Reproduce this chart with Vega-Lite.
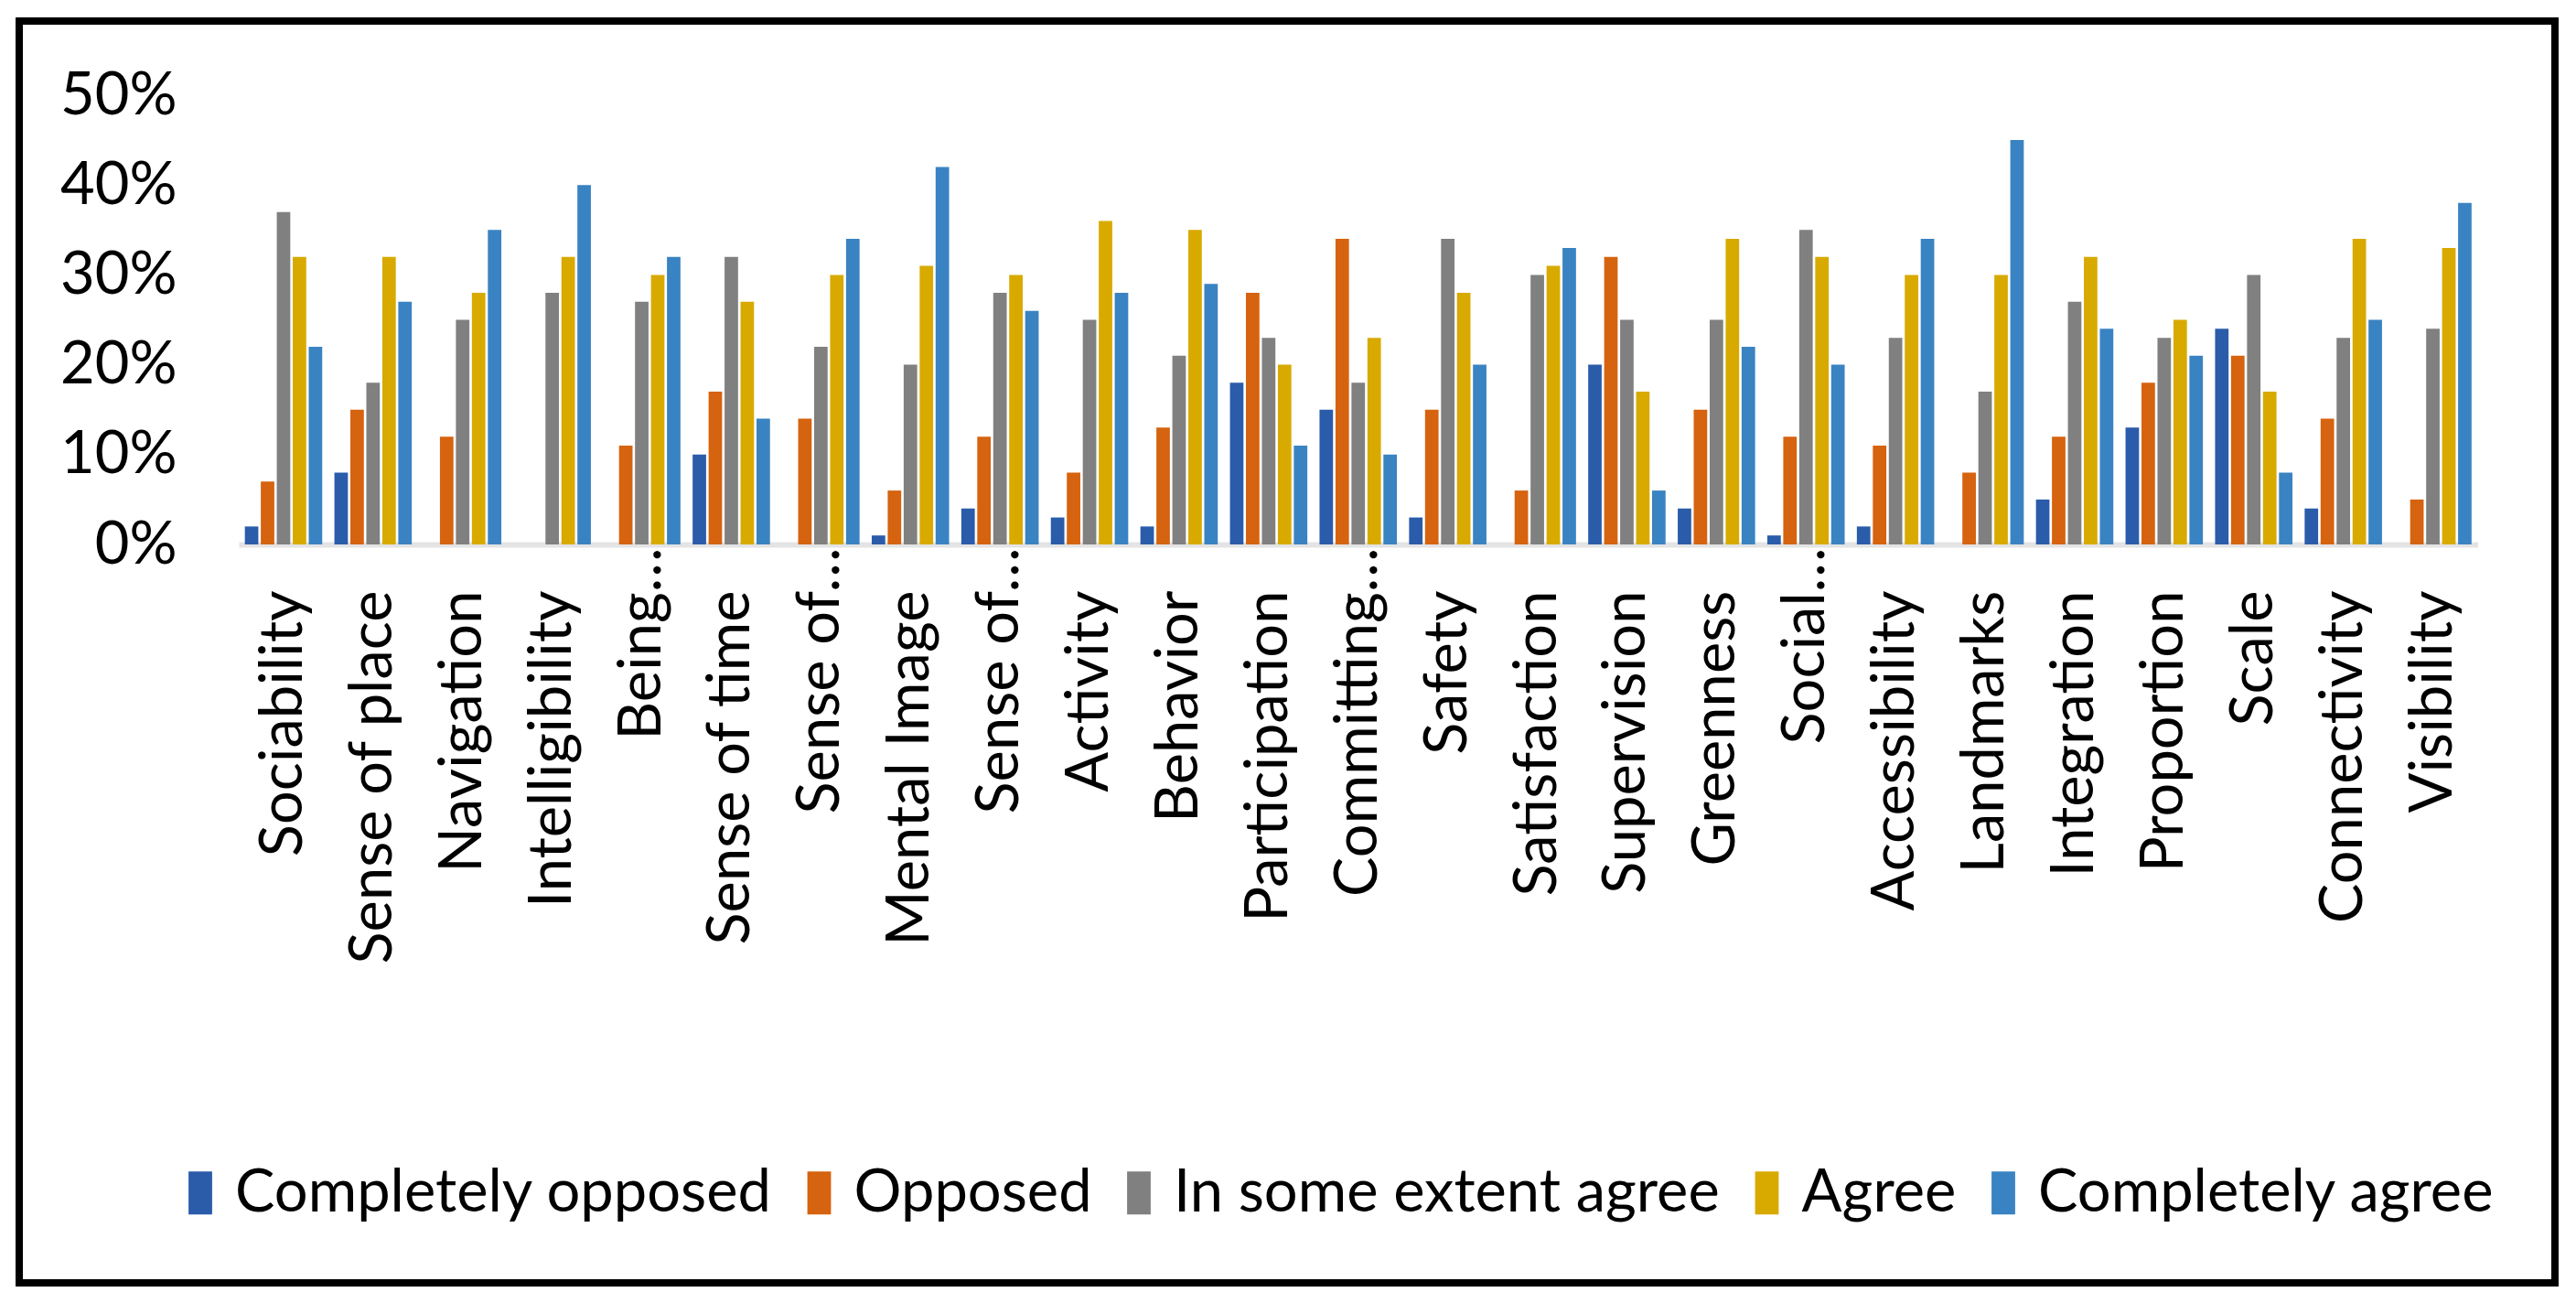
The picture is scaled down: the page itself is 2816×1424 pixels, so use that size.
{
  "$schema": "https://vega.github.io/schema/vega-lite/v6.json",
  "autosize": {"type": "none"},
  "width": 2772,
  "height": 1379,
  "padding": {"left": 21, "top": 23, "right": 23, "bottom": 22},
  "background": "white",
  "config": {
    "view": {"stroke": "#000000", "strokeWidth": 8},
    "font": "Lato",
    "axis": {"labelFont": "Lato", "labelColor": "#000000"},
    "legend": {"labelFont": "Lato", "labelColor": "#000000"}
  },
  "data": {
    "values": [
      {"aspect": "Sociability", "Completely opposed": 2, "Opposed": 7, "In some extent agree": 37, "Agree": 32, "Completely agree": 22},
      {"aspect": "Sense of place", "Completely opposed": 8, "Opposed": 15, "In some extent agree": 18, "Agree": 32, "Completely agree": 27},
      {"aspect": "Navigation", "Completely opposed": 0, "Opposed": 12, "In some extent agree": 25, "Agree": 28, "Completely agree": 35},
      {"aspect": "Intelligibility", "Completely opposed": 0, "Opposed": 0, "In some extent agree": 28, "Agree": 32, "Completely agree": 40},
      {"aspect": "Being…", "Completely opposed": 0, "Opposed": 11, "In some extent agree": 27, "Agree": 30, "Completely agree": 32},
      {"aspect": "Sense of time", "Completely opposed": 10, "Opposed": 17, "In some extent agree": 32, "Agree": 27, "Completely agree": 14},
      {"aspect": "Sense of…", "Completely opposed": 0, "Opposed": 14, "In some extent agree": 22, "Agree": 30, "Completely agree": 34},
      {"aspect": "Mental Image", "Completely opposed": 1, "Opposed": 6, "In some extent agree": 20, "Agree": 31, "Completely agree": 42},
      {"aspect": "Sense of…\u200b", "Completely opposed": 4, "Opposed": 12, "In some extent agree": 28, "Agree": 30, "Completely agree": 26},
      {"aspect": "Activity", "Completely opposed": 3, "Opposed": 8, "In some extent agree": 25, "Agree": 36, "Completely agree": 28},
      {"aspect": "Behavior", "Completely opposed": 2, "Opposed": 13, "In some extent agree": 21, "Agree": 35, "Completely agree": 29},
      {"aspect": "Participation", "Completely opposed": 18, "Opposed": 28, "In some extent agree": 23, "Agree": 20, "Completely agree": 11},
      {"aspect": "Committing…", "Completely opposed": 15, "Opposed": 34, "In some extent agree": 18, "Agree": 23, "Completely agree": 10},
      {"aspect": "Safety", "Completely opposed": 3, "Opposed": 15, "In some extent agree": 34, "Agree": 28, "Completely agree": 20},
      {"aspect": "Satisfaction", "Completely opposed": 0, "Opposed": 6, "In some extent agree": 30, "Agree": 31, "Completely agree": 33},
      {"aspect": "Supervision", "Completely opposed": 20, "Opposed": 32, "In some extent agree": 25, "Agree": 17, "Completely agree": 6},
      {"aspect": "Greenness", "Completely opposed": 4, "Opposed": 15, "In some extent agree": 25, "Agree": 34, "Completely agree": 22},
      {"aspect": "Social…", "Completely opposed": 1, "Opposed": 12, "In some extent agree": 35, "Agree": 32, "Completely agree": 20},
      {"aspect": "Accessibility", "Completely opposed": 2, "Opposed": 11, "In some extent agree": 23, "Agree": 30, "Completely agree": 34},
      {"aspect": "Landmarks", "Completely opposed": 0, "Opposed": 8, "In some extent agree": 17, "Agree": 30, "Completely agree": 45},
      {"aspect": "Integration", "Completely opposed": 5, "Opposed": 12, "In some extent agree": 27, "Agree": 32, "Completely agree": 24},
      {"aspect": "Proportion", "Completely opposed": 13, "Opposed": 18, "In some extent agree": 23, "Agree": 25, "Completely agree": 21},
      {"aspect": "Scale", "Completely opposed": 24, "Opposed": 21, "In some extent agree": 30, "Agree": 17, "Completely agree": 8},
      {"aspect": "Connectivity", "Completely opposed": 4, "Opposed": 14, "In some extent agree": 23, "Agree": 34, "Completely agree": 25},
      {"aspect": "Visibility", "Completely opposed": 0, "Opposed": 5, "In some extent agree": 24, "Agree": 33, "Completely agree": 38}
    ]
  },
  "transform": [
    {"fold": ["Completely opposed", "Opposed", "In some extent agree", "Agree", "Completely agree"], "as": ["response", "pct"]}
  ],
  "mark": {"type": "bar"},
  "encoding": {
    "x": {
      "field": "aspect",
      "type": "nominal",
      "sort": null,
      "scale": {"range": [240, 2687.5], "paddingInner": 0.136, "paddingOuter": 0.068},
      "axis": {
        "title": null,
        "orient": "bottom",
        "offset": -807,
        "labelAngle": -90,
        "labelAlign": "right",
        "labelBaseline": "middle",
        "labelPadding": {"condition": {"test": "indexof(datum.label, '…') >= 0", "value": 3}, "value": 50},
        "ticks": false,
        "tickSize": 0,
        "domain": true,
        "domainColor": "#e4e4e4",
        "domainWidth": 6,
        "labelFontSize": 65,
        "labelLimit": 0,
        "labelOverlap": false,
        "grid": false
      }
    },
    "xOffset": {
      "field": "response",
      "type": "nominal",
      "sort": ["Completely opposed", "Opposed", "In some extent agree", "Agree", "Completely agree"],
      "scale": {"paddingInner": 0.155, "paddingOuter": 0}
    },
    "y": {
      "field": "pct",
      "type": "quantitative",
      "scale": {"domain": [0, 50], "range": [572, 81], "nice": false},
      "axis": {
        "title": null,
        "orient": "left",
        "offset": -172,
        "domain": false,
        "ticks": false,
        "tickSize": 0,
        "labelPadding": 0,
        "values": [0, 10, 20, 30, 40, 50],
        "labelExpr": "datum.value + '%'",
        "labelFontSize": 65,
        "grid": false
      }
    },
    "color": {
      "field": "response",
      "type": "nominal",
      "scale": {
        "domain": ["Completely opposed", "Opposed", "In some extent agree", "Agree", "Completely agree"],
        "range": ["#2a5caa", "#d6630f", "#808080", "#d8aa00", "#3a83c2"]
      },
      "legend": {
        "title": null,
        "orient": "none",
        "direction": "horizontal",
        "columns": 5,
        "legendX": 165.5,
        "legendY": 1248,
        "padding": 0,
        "symbolType": "M-0.55,-1H0.55V1H-0.55Z",
        "symbolSize": 2200,
        "symbolStrokeWidth": 0,
        "symbolOpacity": 1,
        "labelFontSize": 65,
        "labelOffset": 5.6,
        "columnPadding": 18.5,
        "labelLimit": 0
      }
    }
  }
}
